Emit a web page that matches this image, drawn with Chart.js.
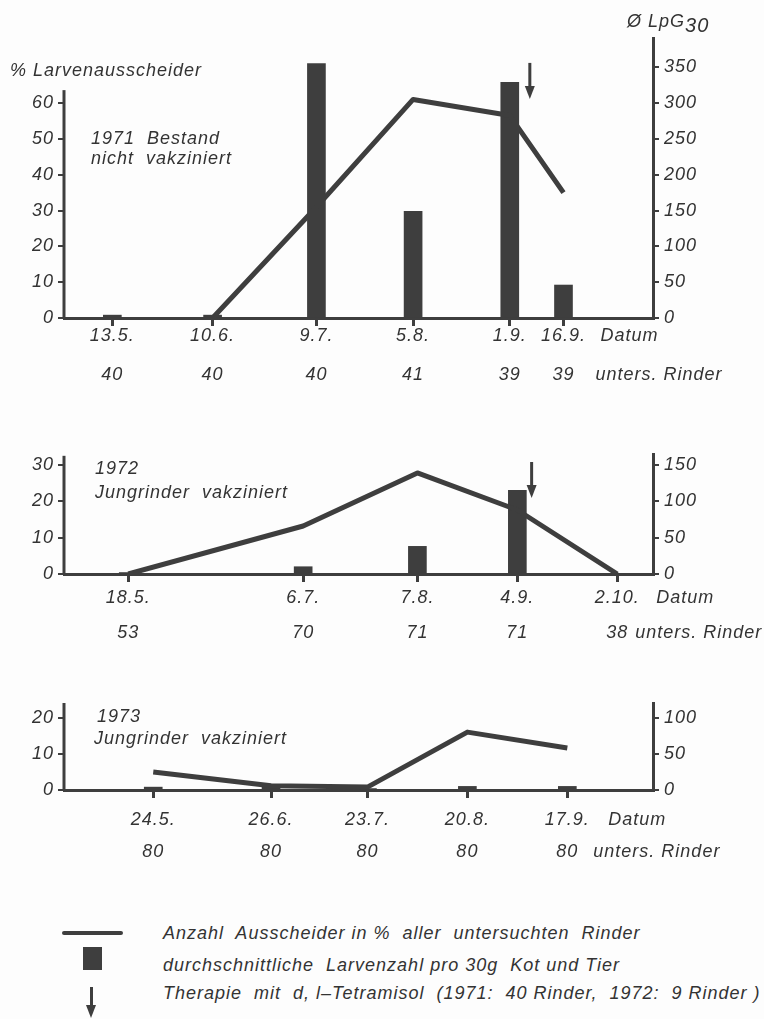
<!DOCTYPE html>
<html>
<head>
<meta charset="utf-8">
<script src="https://cdn.jsdelivr.net/npm/chart.js@4.4.1/dist/chart.umd.min.js"></script>
<style>
  body { margin: 0; background: #fdfdfd; }
  #page { position: relative; width: 764px; height: 1019px; overflow: hidden;
          font: italic 18px "Liberation Sans", Arial, sans-serif; color: #333; letter-spacing: 1px; }
  canvas { position: absolute; left: 0; }
  .t { position: absolute; white-space: pre; line-height: 20px; }
  .sym { position: absolute; background: #3e3e3e; }
</style>
</head>
<body>
<div id="page">
  <canvas id="c1971" width="764" height="400" style="top:0"></canvas>
  <canvas id="c1972" width="764" height="240" style="top:420px"></canvas>
  <canvas id="c1973" width="764" height="200" style="top:680px"></canvas>

  <div class="t" style="left:10px;top:60px">% Larvenausscheider</div>
  <div class="t" style="left:627px;top:10px">Ø LpG<span style="position:relative;top:5px;font-size:20px">30</span></div>

  <div class="t" style="left:91px;top:128px">1971  Bestand</div>
  <div class="t" style="left:91px;top:148px">nicht  vakziniert</div>
  <div class="t" style="left:95px;top:458px">1972</div>
  <div class="t" style="left:95px;top:482px">Jungrinder  vakziniert</div>
  <div class="t" style="left:97px;top:706px">1973</div>
  <div class="t" style="left:94px;top:728px">Jungrinder  vakziniert</div>

  <!-- legend -->
  <div class="sym" style="left:62px;top:931px;width:61px;height:4px;border-radius:2px"></div>
  <div class="sym" style="left:83px;top:947px;width:19px;height:23px"></div>
  <div class="sym" style="left:90px;top:987px;width:3px;height:20px"></div>
  <div style="position:absolute;left:86px;top:1005px;width:0;height:0;border-left:5px solid transparent;border-right:5px solid transparent;border-top:13px solid #3e3e3e"></div>
  <div class="t" style="left:163px;top:923px">Anzahl  Ausscheider in %  aller  untersuchten  Rinder</div>
  <div class="t" style="left:163px;top:955px">durchschnittliche  Larvenzahl pro 30g  Kot und Tier</div>
  <div class="t" style="left:163px;top:983px">Therapie  mit  d, l–Tetramisol  (1971:  40 Rinder,  1972:  9 Rinder )</div>
</div>

<script>
// x values are day of year; the axis runs from about 30 April to 11 October
const days1971 = [133, 161, 190, 217, 244, 259];
const dates1971 = ['13.5.', '10.6.', '9.7.', '5.8.', '1.9.', '16.9.'];
const cattle1971 = [40, 40, 40, 41, 39, 39];
const shedders1971 = [null, 0, 31, 61, 56.5, 35];   // % Larvenausscheider
const larvae1971 = [4, 4, 355, 149, 329, 46];        // Ø LpG30
const leftTicks1971 = [0, 10, 20, 30, 40, 50, 60];
const rightTicks1971 = [0, 50, 100, 150, 200, 250, 300, 350];
const arrow1971 = [249.6, 71.2, 61.1];               // day, from, to (% axis)

const days1972 = [139, 188, 220, 248, 276];
const dates1972 = ['18.5.', '6.7.', '7.8.', '4.9.', '2.10.'];
const cattle1972 = [53, 70, 71, 71, 38];
const shedders1972 = [0, 13.2, 27.8, 17.6, 0];
const larvae1972 = [2, 10, 38, 115, 0];
const leftTicks1972 = [0, 10, 20, 30];
const rightTicks1972 = [0, 50, 100, 150];
const arrow1972 = [252, 30.8, 20.9];

const days1973 = [144, 177, 204, 232, 260];
const dates1973 = ['24.5.', '26.6.', '23.7.', '20.8.', '17.9.'];
const cattle1973 = [80, 80, 80, 80, 80];
const shedders1973 = [5, 1.2, 0.8, 16.1, 11.7];
const larvae1973 = [4, 4, 2, 5, 5];
const leftTicks1973 = [0, 10, 20];
const rightTicks1973 = [0, 50, 100];

const INK = '#3e3e3e';
const FONT = { family: '"Liberation Sans", Arial, sans-serif', size: 18, style: 'italic' };

// axis line on the left, date / count rows under the x axis, therapy arrow
const panelDecor = {
  id: 'panelDecor',
  beforeDraw(chart) {
    chart.ctx.letterSpacing = '1px';
  },
  afterDraw(chart, args, o) {
    const { ctx, chartArea } = chart;
    const x = chart.scales.x, y = chart.scales.y;
    ctx.save();
    ctx.strokeStyle = INK;
    ctx.lineWidth = 3;
    ctx.beginPath();
    ctx.moveTo(chartArea.left, chartArea.bottom + 1);
    ctx.lineTo(chartArea.left, y.getPixelForValue(o.leftTop));
    ctx.stroke();

    ctx.font = 'italic 18px "Liberation Sans", Arial, sans-serif';
    ctx.fillStyle = '#333';
    ctx.textBaseline = 'middle';
    ctx.textAlign = 'center';
    o.days.forEach((d, i) => {
      const px = x.getPixelForValue(d);
      ctx.fillText(o.dates[i], px, chartArea.bottom + o.rows[0]);
      ctx.fillText(String(o.counts[i]), px, chartArea.bottom + o.rows[1]);
    });
    const last = x.getPixelForValue(o.days[o.days.length - 1]);
    ctx.textAlign = 'left';
    ctx.fillText('Datum', last + o.suffix[0], chartArea.bottom + o.rows[0]);
    ctx.fillText('unters. Rinder', last + o.suffix[1], chartArea.bottom + o.rows[1]);

    if (o.arrow) {
      const ax = x.getPixelForValue(o.arrow[0]);
      const y0 = y.getPixelForValue(o.arrow[1]);
      const y1 = y.getPixelForValue(o.arrow[2]);
      ctx.fillStyle = INK;
      ctx.fillRect(ax - 1.5, y0, 3, y1 - y0 - 10);
      ctx.beginPath();
      ctx.moveTo(ax - 5, y1 - 13);
      ctx.lineTo(ax + 5, y1 - 13);
      ctx.lineTo(ax, y1);
      ctx.closePath();
      ctx.fill();
    }
    ctx.restore();
  }
};

function fixedTicks(values) {
  return scale => { scale.ticks = values.map(v => ({ value: v })); };
}

function makePanel(id, p) {
  return new Chart(document.getElementById(id), {
    type: 'bar',
    data: {
      datasets: [
        {
          type: 'line',
          data: p.days.map((d, i) => ({ x: d, y: p.shedders[i] })),
          yAxisID: 'y',
          borderColor: INK,
          borderWidth: 5,
          borderJoinStyle: 'round',
          pointRadius: 0,
          tension: 0,
          spanGaps: false,
          order: 0
        },
        {
          type: 'bar',
          data: p.days.map((d, i) => ({ x: d, y: p.larvae[i] })),
          yAxisID: 'y2',
          backgroundColor: INK,
          barThickness: 18,
          order: 1
        }
      ]
    },
    options: {
      responsive: false,
      animation: false,
      events: [],
      layout: { padding: { top: p.top, left: 0, right: 0, bottom: 0 } },
      plugins: {
        legend: { display: false },
        tooltip: { enabled: false },
        panelDecor: {
          days: p.days, dates: p.dates, counts: p.counts,
          rows: p.rows, suffix: p.suffix, leftTop: p.leftTop, arrow: p.arrow
        }
      },
      scales: {
        x: {
          type: 'linear',
          min: p.xRange[0],
          max: p.xRange[1],
          offset: false,
          afterBuildTicks: fixedTicks(p.days),
          afterFit: s => { s.height = p.xHeight; },
          ticks: { display: false },
          grid: { offset: false, drawOnChartArea: false, tickLength: 8, lineWidth: 3, color: INK },
          border: { display: true, width: 3, color: INK }
        },
        y: {
          position: 'left',
          min: 0,
          max: p.leftMax,
          afterBuildTicks: fixedTicks(p.leftTicks),
          afterFit: s => { s.width = 64; },
          ticks: { font: FONT, color: '#333', padding: 4 },
          grid: { drawOnChartArea: false, tickLength: 6, lineWidth: 2, color: INK },
          border: { display: false }
        },
        y2: {
          position: 'right',
          min: 0,
          max: p.rightMax,
          afterBuildTicks: fixedTicks(p.rightTicks),
          afterFit: s => { s.width = 111; },
          ticks: { font: FONT, color: '#333', padding: 5 },
          grid: { drawOnChartArea: false, tickLength: 6, lineWidth: 2, color: INK },
          border: { display: true, width: 3, color: INK }
        }
      }
    },
    plugins: [panelDecor]
  });
}

makePanel('c1971', {
  days: days1971, dates: dates1971, counts: cattle1971,
  shedders: shedders1971, larvae: larvae1971,
  leftTicks: leftTicks1971, rightTicks: rightTicks1971, arrow: arrow1971,
  xRange: [119.5, 284], top: 38, xHeight: 82, leftMax: 78.15, rightMax: 390.75, leftTop: 63.6,
  rows: [18, 57], suffix: [37, 32]
});

makePanel('c1972', {
  days: days1972, dates: dates1972, counts: cattle1972,
  shedders: shedders1972, larvae: larvae1972,
  leftTicks: leftTicks1972, rightTicks: rightTicks1972, arrow: arrow1972,
  xRange: [121, 286], top: 34, xHeight: 86, leftMax: 33, rightMax: 165, leftTop: 32.5,
  rows: [24, 59], suffix: [39, 18]
});

makePanel('c1973', {
  days: days1973, dates: dates1973, counts: cattle1973,
  shedders: shedders1973, larvae: larvae1973,
  leftTicks: leftTicks1973, rightTicks: rightTicks1973, arrow: null,
  xRange: [119, 284], top: 23, xHeight: 90, leftMax: 24.2, rightMax: 121, leftTop: 24.2,
  rows: [30, 62], suffix: [41, 26]
});
</script>
</body>
</html>
